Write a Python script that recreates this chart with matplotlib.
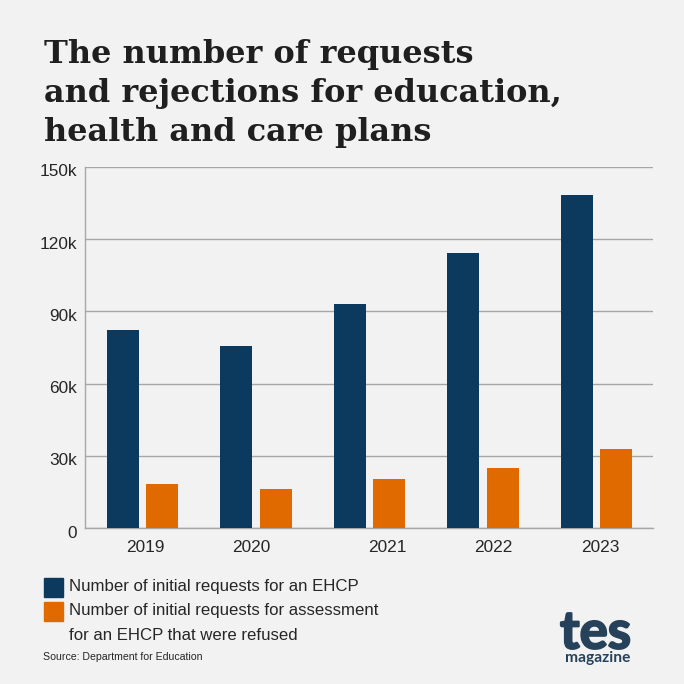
import matplotlib
matplotlib.use("Agg")
import matplotlib.pyplot as plt
import matplotlib.patheffects as pe
from matplotlib.patches import Rectangle
from matplotlib.transforms import ScaledTranslation

BG = "#f2f2f2"
NAVY = "#0b3a5e"
ORANGE = "#e06a00"
GRID = "#a6a6a6"
TEXT = "#262626"
LOGO = "#26415a"

years = ["2019", "2020", "2021", "2022", "2023"]
requests = [82300, 75700, 93000, 114300, 138200]
refused = [18400, 16300, 20500, 25000, 32800]
y_ticks = [0, 30000, 60000, 90000, 120000, 150000]
y_labels = ["0", "30k", "60k", "90k", "120k", "150k"]

title_lines = ["The number of requests", "and rejections for education,", "health and care plans"]
legend_lines = ["Number of initial requests for an EHCP",
                "Number of initial requests for assessment",
                "for an EHCP that were refused"]

W = H = 684
fig = plt.figure(figsize=(W / 100, H / 100), dpi=100, facecolor=BG)
plt.rcParams["font.family"] = ["Liberation Sans", "DejaVu Sans"]


def px(x, y):
    # reference pixels to figure fraction
    return x / W, 1 - y / H


ax = fig.add_axes([85 / W, 1 - 528 / H, (653 - 85) / W, (528 - 167) / H], facecolor=BG)

unit = 113.4
xs = list(range(len(years)))
width = 32 / unit
off = 19.7 / unit
ax.bar([x - off for x in xs], requests, width=width, color=NAVY, zorder=3)
ax.bar([x + off for x in xs], refused, width=width, color=ORANGE, zorder=3)

ax.set_xlim((85 - 142.7) / unit, (653 - 142.7) / unit)
ax.set_ylim(0, 150000)
ax.set_yticks(y_ticks)
ax.set_yticklabels(y_labels, fontsize=12.4, color=TEXT, va="center")
ax.tick_params(axis="y", length=0, pad=6)
ax.set_xticks([])
ax.grid(axis="y", color=GRID, lw=1, zorder=0)
ax.set_axisbelow(True)
for s in ["top", "right"]:
    ax.spines[s].set_visible(False)
for s in ["left", "bottom"]:
    ax.spines[s].set_color(GRID)
    ax.spines[s].set_linewidth(1)

# y labels hang a little below their gridlines
shift = ScaledTranslation(0, -5 / 100, fig.dpi_scale_trans)
for lab in ax.get_yticklabels():
    lab.set_transform(lab.get_transform() + shift)

# the year labels sit a bit off the bar groups in the original
year_x = [145, 251, 387, 493.5, 600]
for x, lab in zip(year_x, years):
    fig.text(*px(x, 548), lab, fontsize=12.4, color=TEXT, ha="center", va="center")

for line, y in zip(title_lines, [63.5, 102, 141]):
    fig.text(*px(44, y), line, fontsize=23, fontweight="bold", family="DejaVu Serif",
             color="#1f1f1f", ha="left", va="baseline")

fig.add_artist(Rectangle(px(44, 597), 19 / W, 19 / H, transform=fig.transFigure, color=NAVY))
fig.add_artist(Rectangle(px(44, 620.5), 19 / W, 19 / H, transform=fig.transFigure, color=ORANGE))
for line, y in zip(legend_lines, [586, 611, 636]):
    fig.text(*px(69, y), line, fontsize=12.1, color=TEXT, ha="left", va="center")
fig.text(*px(43, 657.5), "Source: Department for Education", fontsize=7.6, color=TEXT, ha="left", va="center")

logo = fig.text(*px(595.5, 648.5), "tes", fontsize=38, fontweight="bold", family="Lato",
                color=LOGO, ha="center", va="baseline")
logo.set_path_effects([pe.withStroke(linewidth=1.5, foreground=LOGO)])
fig.text(*px(598, 662), "magazine", fontsize=11.2, fontweight="bold", family="Lato", color=LOGO, ha="center", va="baseline")

fig.savefig("out.png", dpi=100, facecolor=BG)
